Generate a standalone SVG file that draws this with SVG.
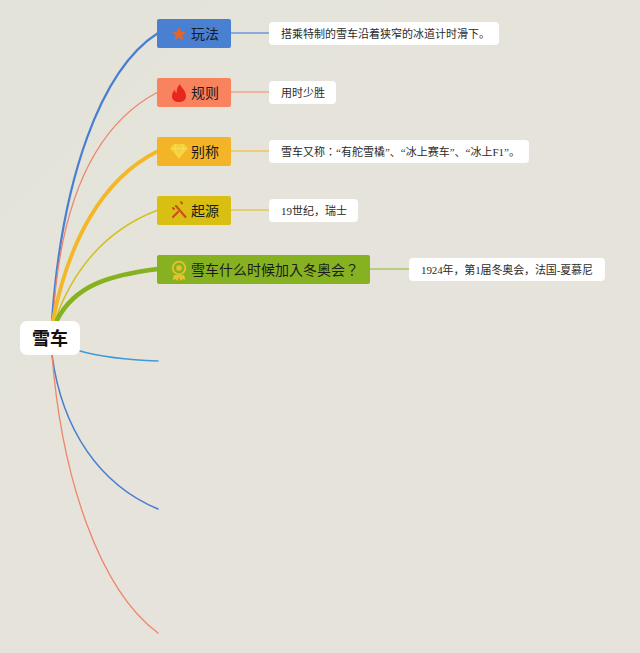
<svg xmlns="http://www.w3.org/2000/svg" width="640" height="653" viewBox="0 0 640 653">
<style>
.c{fill:none;stroke-linecap:round}
.leaf{fill:#fff}
.lt{font:11px "Liberation Serif","Noto Sans CJK TC",serif;fill:#2a2a2a}
.lz{font-family:"Liberation Serif","Noto Sans CJK SC",serif}
.nt{font:14px "Noto Sans CJK TC","Noto Sans",sans-serif;fill:#1a1a1a}
.rt{font:bold 18px "Noto Sans CJK SC","Noto Sans",sans-serif;fill:#111}
</style>
<defs>
<linearGradient id="bg" x1="0" y1="0" x2="1" y2="1"><stop offset="0" stop-color="#e4e3da"/><stop offset="1" stop-color="#e7e3dc"/></linearGradient>
</defs>
<rect width="640" height="653" fill="url(#bg)"/>
<g id="connectors">
<path class="c" d="M52 320C62 180 100 70 158 33" stroke="#4a7fd0" stroke-width="2.200"/>
<path class="c" d="M53 320C60 200 95 125 158 92" stroke="#f0846a" stroke-width="1.300"/>
<path class="c" d="M53 320C68 245 100 180 158 151" stroke="#f4b728" stroke-width="3.800"/>
<path class="c" d="M55 320C75 265 110 228 158 210" stroke="#d4c020" stroke-width="1.500"/>
<path class="c" d="M57 320C75 285 110 275 158 269" stroke="#87b220" stroke-width="4.400"/>
<path class="c" d="M80 351C105 358 130 360 158 361" stroke="#3f9ad8" stroke-width="1.600"/>
<path class="c" d="M52 355C62 430 100 485 158 509" stroke="#4a7fd0" stroke-width="1.600"/>
<path class="c" d="M52 355C62 480 100 590 158 633" stroke="#f0846a" stroke-width="1.300"/>
<path class="c" d="M231 33H269" stroke="#6f98dc" stroke-width="1.300"/>
<path class="c" d="M231 92H269" stroke="#f2a48e" stroke-width="1.300"/>
<path class="c" d="M231 151H269" stroke="#f2c658" stroke-width="1.300"/>
<path class="c" d="M231 210H269" stroke="#e2c850" stroke-width="1.300"/>
<path class="c" d="M370 269H409" stroke="#aac664" stroke-width="1.300"/>
</g>
<g id="root"><rect x="20" y="321" width="60" height="34" rx="7" class="leaf"/><text x="50" y="345" text-anchor="middle" class="rt">雪车</text></g>
<g id="n1"><rect x="157" y="19" width="74" height="29" rx="2" fill="#4a80d2"/>
<path d="M179 27l2.100 4.400 4.800.6-3.500 3.300.9 4.700-4.300-2.300-4.300 2.300.9-4.700-3.500-3.300 4.800-.6z" fill="#e0662f"/>
<text x="191" y="39" class="nt">玩法</text></g>
<g id="n2"><rect x="157" y="78" width="74" height="29" rx="2" fill="#f9825f"/>
<path d="M180 84c1 4 6 6 6 12 0 4-3 6-7 6s-7-2-7-6c0-3 1.500-5 3-6.500 0 2 .5 3 1.500 3.500 0-4 1.500-7 3.500-9z" fill="#e8261e"/>
<text x="191" y="98" class="nt">规则</text></g>
<g id="n3"><rect x="157" y="137" width="74" height="29" rx="2" fill="#f4b428"/>
<path d="M174 144h10l4 4.500-9 10-9-10z" fill="#f5d136"/><path d="M171 148.500h16M176 144l-1.500 4.500 4.500 9 4.500-9-1.500-4.500" fill="none" stroke="#f7e27a" stroke-width=".6"/>
<text x="191" y="157" class="nt">别称</text></g>
<g id="n4"><rect x="157" y="196" width="74" height="29" rx="2" fill="#d8bf12"/>
<path d="M176 206l9.500 11M173 217l5-5" fill="none" stroke="#c9501c" stroke-width="2.200" stroke-linecap="round"/><path d="M181 202l1 1.500M173 208l1 1" fill="none" stroke="#d2481c" stroke-width="2" stroke-linecap="round"/>
<text x="191" y="216" class="nt">起源</text></g>
<g id="n5"><rect x="157" y="255" width="213" height="29" rx="2" fill="#86b222"/>
<path d="M174 275l-1.500 5 3-1 2 2 1.500-4 1.500 4 2-2 3 1-1.500-5z" fill="#e8c22a"/><circle cx="179" cy="268" r="6.300" fill="none" stroke="#e8c22a" stroke-width="1.800"/><circle cx="179" cy="268" r="2.800" fill="#e8c22a"/>
<text x="191" y="275" class="nt">雪车什么时候加入冬奥会？</text></g>
<g id="l1"><rect x="269" y="22" width="230" height="23" rx="4" class="leaf"/><text x="281" y="38" class="lt lz">搭乘特制的雪车沿着狭窄的冰道计时滑下。</text></g>
<g id="l2"><rect x="269" y="81" width="67" height="23" rx="4" class="leaf"/><text x="281" y="97" class="lt lz">用时少胜</text></g>
<g id="l3"><rect x="269" y="140" width="260" height="23" rx="4" class="leaf"/><text x="281" y="156" class="lt lz">雪车又称<tspan style="font-family:'Noto Sans CJK TC',sans-serif">：</tspan>“有舵雪橇”、“冰上赛车”、“冰上F1”。</text></g>
<g id="l4"><rect x="269" y="199" width="89" height="23" rx="4" class="leaf"/><text x="281" y="215" class="lt lz">19世纪，瑞士</text></g>
<g id="l5"><rect x="409" y="258" width="196" height="23" rx="4" class="leaf"/><text x="421" y="274" class="lt lz" textLength="172">1924年，第1届冬奥会，法国-夏慕尼</text></g>
</svg>
